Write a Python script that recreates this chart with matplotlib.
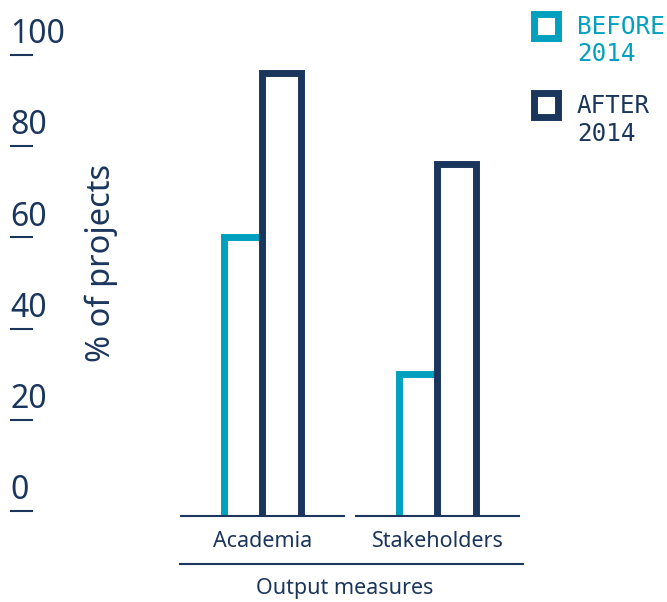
import matplotlib.pyplot as plt
import matplotlib.transforms as mtransforms

categories = ["Academia", "Stakeholders"]
before_2014 = [60, 30]
after_2014 = [96, 76]
y_ticks = [0, 20, 40, 60, 80, 100]

TEAL = "#00A0BE"
NAVY = "#1B365D"
FONT = ["Noto Sans", "DejaVu Sans"]

fig = plt.figure(figsize=(6.67, 6.02), dpi=100)
# axes bottom sits on the category baseline, spans to the top of the figure
ax = fig.add_axes([0, 86 / 602, 1, 516 / 602])
ax.set_xlim(-1.5, 2.311)
ax.set_ylim(-1.1, 112.06)
ax.axis("off")

width = 0.223
offset = 0.106
xs = range(len(categories))

# bars start below the axes so the clipped bottom edge is hidden
ax.bar([x - offset for x in xs], [v + 10 for v in before_2014], bottom=-10,
       width=width, facecolor="white", edgecolor=TEAL, linewidth=5, zorder=2)
ax.bar([x + offset for x in xs], [v + 10 for v in after_2014], bottom=-10,
       width=width, facecolor="white", edgecolor=NAVY, linewidth=5, zorder=3)

# category baselines and labels
for x, name in zip(xs, categories):
    ax.plot([x - 0.466, x + 0.466], [-1.1, -1.1], color=NAVY, lw=1.5,
            clip_on=False, zorder=4)
    ax.text(x, -6.6, name, ha="center", va="center", fontsize=15.5,
            color=NAVY, family=FONT)

ax.plot([-0.471, 1.489], [-11.6, -11.6], color=NAVY, lw=1.5, clip_on=False)
ax.text(0.47, -16.9, "Output measures", ha="center", va="center",
        fontsize=15.5, color=NAVY, family=FONT)

# y ticks: number above a short dash
trans = mtransforms.blended_transform_factory(ax.transAxes, ax.transData)
for t in y_ticks:
    ax.plot([0.0165, 0.048], [t, t], color=NAVY, lw=1.5, transform=trans,
            clip_on=False)
    ax.text(0.015, t + 2.6, str(t), transform=trans, ha="left",
            va="baseline", fontsize=23, color=NAVY, family=FONT)

fig.text(101 / 667, 1 - 263 / 602, "% of projects", rotation=90,
         ha="center", va="center", fontsize=23.5, color=NAVY, family=FONT)

# legend
legend_items = [("BEFORE\n2014", TEAL, 25.5), ("AFTER\n2014", NAVY, 105)]
for label, col, ypx in legend_items:
    fig.lines.append(plt.Line2D([545.5 / 667], [1 - ypx / 602], marker="s",
                                markersize=17.3, markeredgewidth=5,
                                markerfacecolor="white", markeredgecolor=col,
                                transform=fig.transFigure))
    fig.text(577 / 667, 1 - (ypx - 11) / 602, label, ha="left", va="top",
             fontsize=17.5, color=col, family="DejaVu Sans Mono",
             linespacing=1.2)

fig.savefig("out.png", dpi=100)
